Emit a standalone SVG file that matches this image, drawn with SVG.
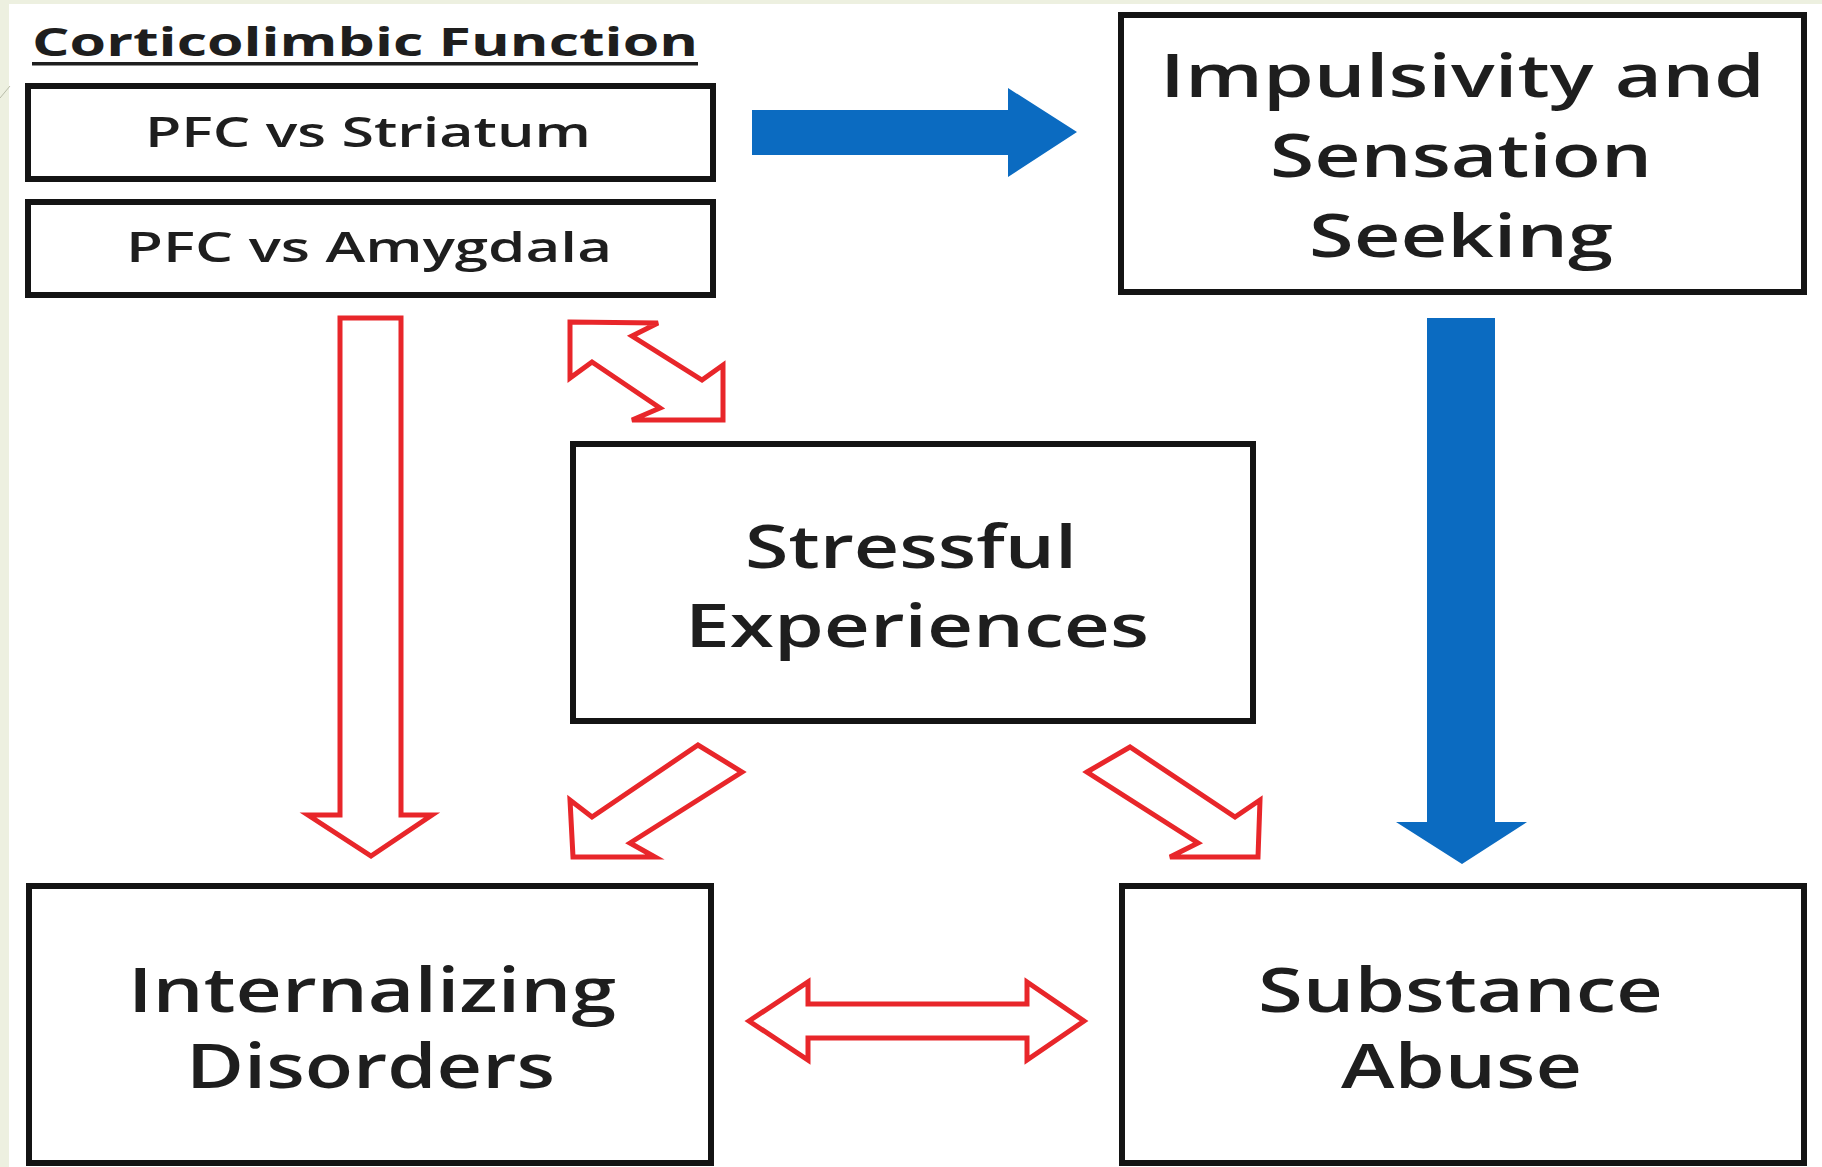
<svg xmlns="http://www.w3.org/2000/svg" width="1822" height="1167" viewBox="0 0 1822 1167">
<style>
.box{fill:#ffffff;stroke:#141414;stroke-width:6}
.lbl{font-family:"Open Sans","Liberation Sans",sans-serif;fill:#1e1e1e;font-weight:600}
.big{font-size:60px}
.small{font-size:42px}
.ho{fill:#ffffff;stroke:#e8262a;stroke-width:5;stroke-linejoin:miter}
.blue{fill:#0b6bc1}
</style>
<rect x="0" y="0" width="1822" height="1167" fill="#edf0e0"/>
<rect x="9" y="4" width="1813" height="1163" fill="#ffffff"/>
<line x1="0" y1="98" x2="10" y2="86" stroke="#b8bca8" stroke-width="1"/>

<g id="title">
<text class="lbl" x="32" y="56" font-size="39" font-weight="bold" style="font-weight:bold" textLength="666" lengthAdjust="spacingAndGlyphs">Corticolimbic Function</text>
<rect x="32" y="62" width="666" height="3.5" fill="#1e1e1e"/>
</g>

<g id="pfc-striatum">
<rect class="box" x="28" y="86" width="685" height="93"/>
<text class="lbl small" x="145" y="147" textLength="446" lengthAdjust="spacingAndGlyphs">PFC vs Striatum</text>
</g>

<g id="pfc-amygdala">
<rect class="box" x="28" y="202" width="685" height="93"/>
<text class="lbl small" x="126" y="262" textLength="486" lengthAdjust="spacingAndGlyphs">PFC vs Amygdala</text>
</g>

<g id="impulsivity">
<rect class="box" x="1121" y="15" width="683" height="277"/>
<text class="lbl" font-size="59" x="1160" y="97" textLength="605" lengthAdjust="spacingAndGlyphs">Impulsivity and</text>
<text class="lbl" font-size="59" x="1270" y="177" textLength="382" lengthAdjust="spacingAndGlyphs">Sensation</text>
<text class="lbl" font-size="59" x="1309" y="257" textLength="304" lengthAdjust="spacingAndGlyphs">Seeking</text>
</g>

<g id="stressful">
<rect class="box" x="573" y="444" width="680" height="277"/>
<text class="lbl big" x="745" y="568" textLength="332" lengthAdjust="spacingAndGlyphs">Stressful</text>
<text class="lbl big" x="685" y="647" textLength="464" lengthAdjust="spacingAndGlyphs">Experiences</text>
</g>

<g id="internalizing">
<rect class="box" x="29" y="886" width="682" height="277"/>
<text class="lbl" font-size="62" x="128" y="1012" textLength="488" lengthAdjust="spacingAndGlyphs">Internalizing</text>
<text class="lbl" font-size="62" x="186" y="1088" textLength="369" lengthAdjust="spacingAndGlyphs">Disorders</text>
</g>

<g id="substance">
<rect class="box" x="1122" y="886" width="682" height="277"/>
<text class="lbl" font-size="62" x="1258" y="1012" textLength="405" lengthAdjust="spacingAndGlyphs">Substance</text>
<text class="lbl" font-size="62" x="1341" y="1088" textLength="241" lengthAdjust="spacingAndGlyphs">Abuse</text>
</g>

<g id="connectors">
<polygon class="blue" points="752,110 1008,110 1008,88 1077,132 1008,177 1008,155 752,155"/>
<polygon class="blue" points="1427,318 1495,318 1495,822 1527,822 1462,864 1396,822 1427,822"/>
<polygon class="ho" points="340,318 401,318 401,815 432,815 371,856 308,815 340,815"/>
<polygon class="ho" points="570,322 658,323 632,336 702,380 723,365 723,420 632,420 660,408 592,362 570,378"/>
<polygon class="ho" points="573,857 570,800 592,817 698,745 742,772 630,843 655,857"/>
<polygon class="ho" points="1087,772 1130,747 1235,817 1260,800 1258,857 1170,857 1198,843"/>
<polygon class="ho" points="749,1021 808,982 808,1004 1027,1004 1027,982 1084,1021 1027,1060 1027,1038 808,1038 808,1060"/>
</g>
</svg>
